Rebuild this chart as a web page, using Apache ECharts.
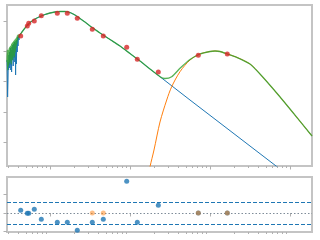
<!DOCTYPE html>
<html><head><meta charset="utf-8">
<script src="https://cdn.jsdelivr.net/npm/echarts@6/dist/echarts.min.js"></script>
<style>html,body{margin:0;padding:0;background:#fff}#c{width:320px;height:240px}</style>
</head><body><div id="c"></div>
<script>
// wavelengths in micron, flux in arbitrary units (log-log)
const stellarWave = [0.2901,0.2926,0.2951,0.2985,0.3011,0.3037,0.3073,0.3099,0.3126,0.3162,0.3199,0.3236,0.3273,0.3311,0.3350,0.3388,0.3428,0.3467,0.3508,0.3548,0.3589,0.3631,0.3673,0.3715,0.3758,0.3802,0.3846,0.3890,0.3936,0.3981,0.4038,0.4097,0.4156,
  0.4217,0.4870,0.5623,0.6494,0.7499,0.8660,1.0,1.155,1.334,1.540,1.778,2.054,2.371,2.738,3.162,3.652,4.217,5.623,7.499,10.0,13.34,17.78,23.71,56.23,133.4,316.2,687.9,1884];
const stellarFlux = [0.05137,0.01640,0.003073,0.01121,0.04411,0.02400,0.07516,0.02795,0.09445,0.03511,0.1281,0.02400,0.1100,0.02061,0.1382,0.05137,0.1609,0.03253,0.1737,0.05981,0.2021,0.04411,0.1874,0.01640,0.2183,0.03789,0.2354,0.09445,0.2958,0.1491,0.3193,0.2354,0.3445,
  0.3445,0.5870,0.8921,1.164,1.409,1.640,1.838,1.984,2.061,2.061,1.910,1.579,1.209,0.9266,0.6833,0.5236,0.4012,0.2445,0.1491,0.08425,0.04760,0.02588,0.01441,0.002446,0.0004246,0.00007376,0.00001526,0.000001939];

const dustWave = [13.34,15.40,17.78,19.95,23.71,28.76,33.20,42.17,56.23,74.99,100,115.5,133.4,164.5,215.7,316.2,421.7,681.9,1000,1884];
const dustFlux = [1.803e-7,2.588e-6,1.526e-5,5.437e-5,4.581e-4,0.002446,0.006730,0.02109,0.05137,0.08110,0.09810,0.1019,0.09810,0.08110,0.0631,0.03789,0.01770,0.004168,0.001233,0.0001578];

const totalWave = [0.2901,0.2926,0.2951,0.2985,0.3011,0.3037,0.3073,0.3099,0.3126,0.3162,0.3199,0.3236,0.3273,0.3311,0.3350,0.3388,0.3428,0.3467,0.3508,0.3548,0.3589,0.3631,0.3673,0.3715,0.3758,0.3802,0.3846,0.3890,0.3936,0.3981,0.4038,0.4097,0.4156,
  0.4217,0.4870,0.5623,0.6494,0.7499,0.8660,1.0,1.155,1.334,1.540,1.778,2.054,2.371,2.738,3.162,3.652,4.217,5.623,7.499,10.0,13.34,17.78,
  23.71,27.38,33.20,42.17,56.23,74.99,100,115.5,133.4,164.5,215.7,316.2,421.7,681.9,1000,1884];
const totalFlux = [0.04411,0.1100,0.02400,0.07516,0.03253,0.1100,0.03789,0.1281,0.04411,0.1382,0.05137,0.1491,0.03789,0.1737,0.05981,0.1874,0.05137,0.2021,0.07516,0.2183,0.06455,0.2354,0.09445,0.2541,0.1281,0.2742,0.1737,0.3193,0.2354,0.3445,0.2958,0.3445,0.3193,
  0.3445,0.5870,0.8921,1.164,1.409,1.640,1.838,1.984,2.061,2.061,1.910,1.579,1.209,0.9266,0.6833,0.5236,0.4012,0.2445,0.1491,0.08425,0.04760,0.02588,
  0.01441,0.01257,0.01441,0.02732,0.05337,0.08110,0.09810,0.1019,0.09810,0.08110,0.0631,0.03789,0.01770,0.004168,0.001233,0.0001578];

const obsWave = [0.4302,0.5202,0.5418,0.6363,0.7785,1.234,1.645,2.194,3.379,4.637,9.094,12.34,22.59,71.42,164.5];
const obsFlux = [0.3193,0.6833,0.8395,1.0,1.497,1.797,1.797,1.228,0.5316,0.3193,0.1351,0.05418,0.02061,0.07348,0.08110];
const residual = [0.15,-0.02,-0.02,0.20,-0.345,-0.51,-0.51,-0.95,-0.51,-0.345,1.74,-0.51,0.42,0,0];

const otherResWave = [3.379,4.637,71.42,164.5];
const otherRes = [0,0,0,0];

const residualLevels = [-0.6, 0, 0.6];

const majorTicks = [1,10,100,1000];
const minorTicks = [0.3,0.4,0.5,0.6,0.7,0.8,0.9,2,3,4,5,6,7,8,9,20,30,40,50,60,70,80,90,200,300,400,500,600,700,800,900];
const fluxTicks = [1e-4,1e-3,1e-2,1e-1,1];
const resTicks = [-1,0,1];

const XMIN = 0.29, XMAX = 1884;
const zip = (a,b) => a.map((v,i)=>[v,b[i]]);

const tickColor = '#b0b0b0';
function xAx(g, ticks, len){
  return {type:'log', logBase:10, gridIndex:g, min:XMIN, max:XMAX, position:'bottom',
    axisLine:{show:false}, axisLabel:{show:false}, splitLine:{show:false}, minorTick:{show:false},
    axisTick:{show:true, inside:false, length:len, customValues:ticks, lineStyle:{color:tickColor,width:1}}};
}
const chart = echarts.init(document.getElementById('c'), null, {renderer:'canvas'});
chart.setOption({
  animation:false,
  backgroundColor:'#fff',
  grid:[
    {left:7, top:5, width:305, height:161, show:true, borderColor:'#c4c4c4', borderWidth:2, backgroundColor:'transparent'},
    {left:7, top:177, width:305, height:55, show:true, borderColor:'#c4c4c4', borderWidth:2, backgroundColor:'transparent'}
  ],
  xAxis:[xAx(0,majorTicks,3.5), xAx(0,minorTicks,2), xAx(1,majorTicks,3.5), xAx(1,minorTicks,2)],
  yAxis:[
    {type:'log', logBase:10, gridIndex:0, min:1.61e-5, max:3.38, axisLine:{show:false}, axisLabel:{show:false}, splitLine:{show:false}, minorTick:{show:false},
     axisTick:{show:true, length:3.5, customValues:fluxTicks, lineStyle:{color:tickColor,width:1}}},
    {type:'value', gridIndex:1, min:-1.04, max:1.97, axisLine:{show:false}, axisLabel:{show:false}, splitLine:{show:false},
     axisTick:{show:true, length:3.5, customValues:resTicks, lineStyle:{color:tickColor,width:1}}}
  ],
  series:[
    {type:'line', xAxisIndex:0, yAxisIndex:0, data:zip(stellarWave,stellarFlux), showSymbol:false, symbol:'none',
     lineStyle:{color:'#1f77b4', width:1}, z:2},
    {type:'line', xAxisIndex:0, yAxisIndex:0, data:zip(dustWave,dustFlux), showSymbol:false, symbol:'none', smooth:0.3,
     lineStyle:{color:'#ff7f0e', width:1}, z:3},
    {type:'line', xAxisIndex:0, yAxisIndex:0, data:zip(totalWave,totalFlux), showSymbol:false, symbol:'none', smooth:0.2,
     lineStyle:{color:'#2ca02c', width:1.3, opacity:0.8}, z:4},
    {type:'scatter', xAxisIndex:0, yAxisIndex:0, data:zip(obsWave,obsFlux), symbolSize:5,
     itemStyle:{color:'#d62728'}, z:5},
    {type:'scatter', xAxisIndex:2, yAxisIndex:1, data:zip(obsWave,residual), symbolSize:5,
     itemStyle:{color:'#1f77b4'}, z:5,
     markLine:{silent:true, symbol:'none', label:{show:false},
       data: residualLevels.map(v => ({yAxis:v, lineStyle: v===0
         ? {type:[1.5,2], color:'#7f8c99', width:1}
         : {type:[4,2], color:'#1f77b4', width:1}}))}},
    {type:'scatter', xAxisIndex:2, yAxisIndex:1, data:zip(otherResWave,otherRes), symbolSize:5,
     itemStyle:{color:'#ff7f0e', opacity:0.5}, z:6}
  ]
});
</script>
</body></html>
